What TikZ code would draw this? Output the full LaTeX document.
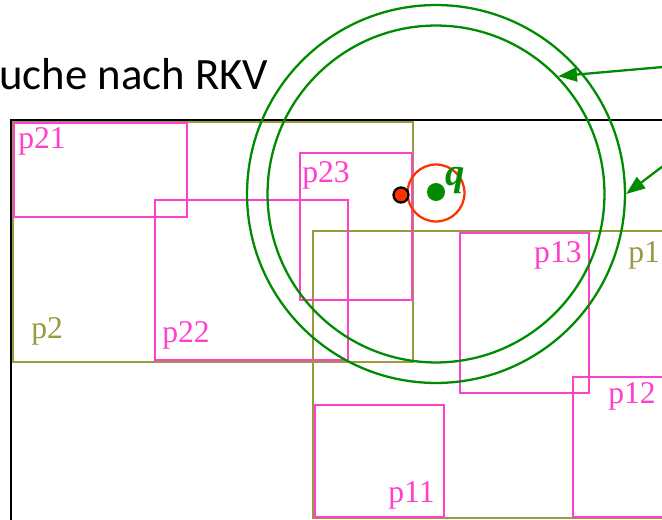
\documentclass[tikz,border=0pt]{standalone}
\usepackage{fontspec}
\setmainfont{Liberation Serif}
\newfontfamily\titlefont{Carlito}
\usetikzlibrary{arrows.meta}
\definecolor{Cpage}{RGB}{255,64,204}
\definecolor{Cdir}{RGB}{153,153,64}
\definecolor{Cring}{RGB}{0,140,0}
\definecolor{Chit}{RGB}{255,51,0}
\tikzset{
  space/.style={draw=black, line width=1.3pt},
  dir/.style={draw=Cdir, line width=1.3pt},
  page/.style={draw=Cpage, line width=1.3pt},
  dirlbl/.style={inner sep=0pt, text=Cdir, font=\fontsize{18}{20}\selectfont},
  pagelbl/.style={inner sep=0pt, text=Cpage, font=\fontsize{18}{20}\selectfont},
  ring/.style={circle, draw=Cring, line width=1.3pt, inner sep=0pt},
  ttl/.style={inner sep=0pt, font=\titlefont\fontsize{25.5}{30}\selectfont},
  arr/.style={-{Triangle[length=0.38cm, width=0.28cm]}, Cring, line width=1.3pt},
}

\begin{document}
\begin{tikzpicture}[x=0.02cm, y=-0.02cm]

  %% ── Frame ──────────────────────────────────────────────────────────────────

  \useasboundingbox (0,0) rectangle (662,520);
  \fill[white] (0,0) rectangle (662,520);
  \clip (0,0) rectangle (662,520);

  \node[ttl, anchor=base west] (title) at (-1,90) {uche nach RKV};

  %% ── Data space and directory regions ───────────────────────────────────────

  \draw[space] (11,120) rectangle (720,580);

  \draw[dir] (13,122) rectangle (413,362);
  \draw[dir] (313,231) rectangle (720,518);

  \node[dirlbl, anchor=base west] (p2) at (31,338) {p2};
  \node[dirlbl, anchor=base west] (p1) at (628,262) {p1};

  %% ── Data pages ─────────────────────────────────────────────────────────────

  \draw[page] (14,123) rectangle (187,217);
  \draw[page] (155,200) rectangle (348,360);
  \draw[page] (300,153) rectangle (412,300);
  \draw[page] (460,233) rectangle (589,393);
  \draw[page] (573,377) rectangle (720,517);
  \draw[page] (315,405) rectangle (444,517);

  \node[pagelbl, anchor=base west] (p21) at (18,149) {p21};
  \node[pagelbl, anchor=base west] (p22) at (162,342) {p22};
  \node[pagelbl, anchor=base west] (p23) at (302,183) {p23};
  \node[pagelbl, anchor=base east] (p13) at (582,262) {p13};
  \node[pagelbl, anchor=base west] (p12) at (608,403) {p12};
  \node[pagelbl, anchor=base east] (p11) at (435,502) {p11};

  %% ── Query point and search radii ───────────────────────────────────────────

  \coordinate (q) at (436,194);
  \node[ring, minimum size=6.74cm] (inner) at (q) {};
  \node[ring, minimum size=7.56cm] (outer) at (q) {};
  \node[circle, draw=Chit, line width=1.3pt, inner sep=0pt,
        minimum size=1.14cm] (near) at (436,193) {};

  \node[circle, fill=Cring, inner sep=0pt, minimum size=0.36cm] (qdot) at (436,192) {};
  \node[circle, fill=Chit, draw=black, line width=1.3pt, inner sep=0pt,
        minimum size=0.3cm] (hit) at (401,195) {};
  \node[inner sep=0pt, anchor=base west, text=Cring,
        font=\fontsize{22}{24}\selectfont\bfseries\itshape] (qlbl) at (445,186) {q};

  % pointers from outside
  \coordinate (from1) at (720,62);
  \coordinate (from2) at (700,138);
  \draw[arr] (from1) -- (inner.44);
  \draw[arr] (from2) -- (outer.0);

\end{tikzpicture}
\end{document}
